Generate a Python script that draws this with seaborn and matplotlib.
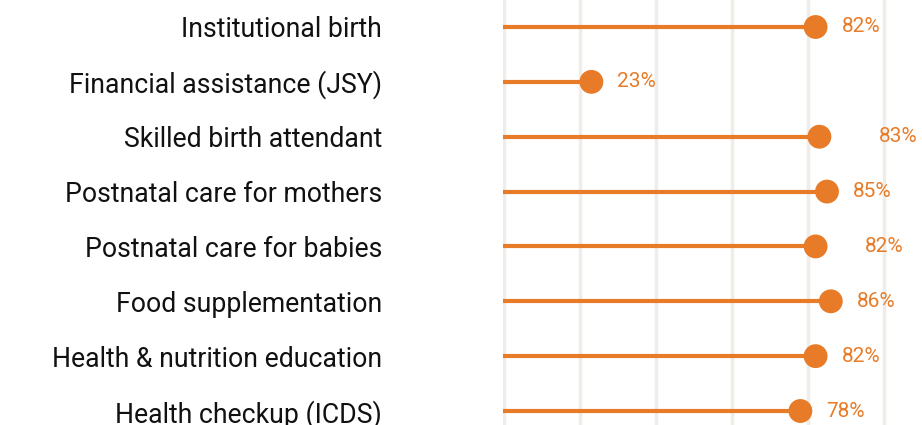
import numpy as np
import pandas as pd
import seaborn as sns
import matplotlib.pyplot as plt

# Data
services = [
    'Institutional birth',
    'Financial assistance (JSY)',
    'Skilled birth attendant',
    'Postnatal care for mothers',
    'Postnatal care for babies',
    'Food supplementation',
    'Health & nutrition education',
    'Health checkup (ICDS)',
]
coverage = [82, 23, 83, 85, 82, 86, 82, 78]

df = pd.DataFrame({'service': services, 'coverage': coverage})

orange = '#E87B27'

sns.set_theme(style='white')
plt.rcParams['font.family'] = ['Roboto', 'DejaVu Sans']

fig = plt.figure(figsize=(9.22, 4.25), dpi=100)
ax = fig.add_axes([503 / 922, 0, 1 - 503 / 922, 1])

ypos = np.arange(len(df))

# stems
ax.hlines(ypos, -0.3, df['coverage'], color=orange, linewidth=3, zorder=2)
# heads
sns.scatterplot(x='coverage', y=ypos, data=df, ax=ax, color=orange, s=295,
                edgecolor='none', zorder=3, legend=False)

# value labels (a couple are nudged further right in the original)
extra = {2: 33, 4: 23}
for i, v in enumerate(df['coverage']):
    ax.annotate(f'{v}%', (v, i), xytext=(26 + extra.get(i, 0), 0),
                textcoords='offset pixels', va='center', ha='left',
                color=orange, fontsize=15)

ax.set_xlim(-0.26, 110)
ax.set_ylim(7.255, -0.492)
ax.set_xticks([0, 20, 40, 60, 80, 100])
ax.set_xticklabels([])
ax.set_yticks(ypos)
ax.set_yticklabels(services, fontsize=19.2, color='#111111')
ax.tick_params(axis='y', length=0, pad=87)
ax.tick_params(axis='x', length=0)
ax.grid(axis='x', color='#EEEDE9', linewidth=2.5, zorder=0)
ax.grid(axis='y', visible=False)
ax.set_axisbelow(True)
for s in ax.spines.values():
    s.set_visible(False)
ax.set_xlabel('')
ax.set_ylabel('')

fig.savefig('out.png', dpi=100)
